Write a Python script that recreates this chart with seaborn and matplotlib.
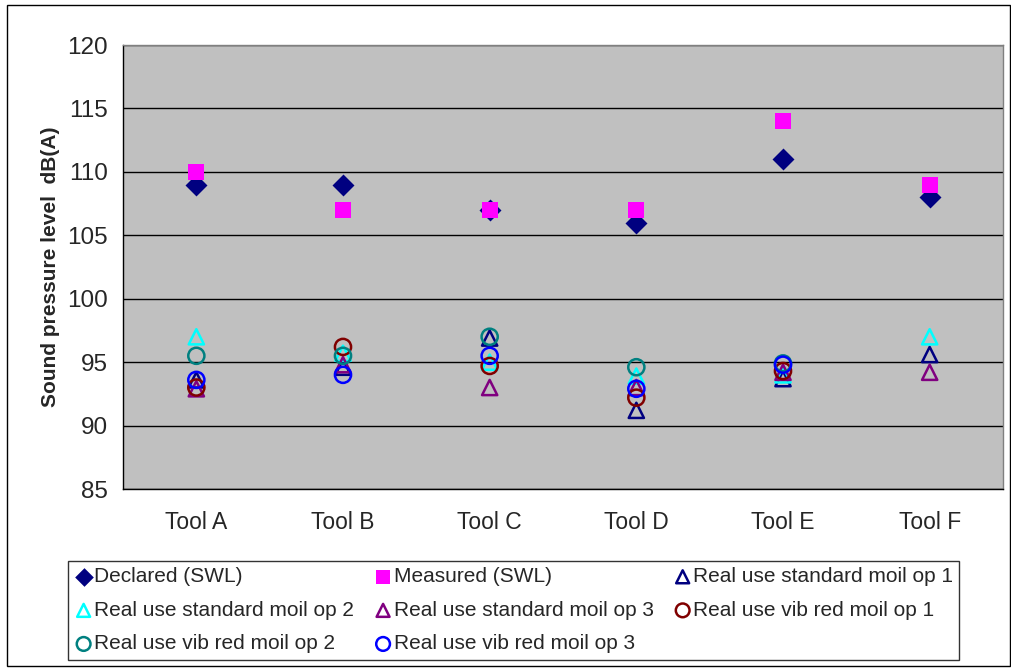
import matplotlib
matplotlib.use("Agg")
import matplotlib.pyplot as plt
import seaborn as sns
import pandas as pd
from matplotlib.patches import Rectangle

tools = ["Tool A", "Tool B", "Tool C", "Tool D", "Tool E", "Tool F"]
declared = [109, 109, 107, 106, 111, 108]
measured = [110, 107, 107, 107, 114, 109]
std_op1 = [93.6, 94.6, 96.9, 91.2, 93.7, 95.6]
std_op2 = [97.0, 95.7, 95.0, 93.9, 94.0, 97.0]
std_op3 = [92.9, 94.8, 93.0, 93.0, 94.2, 94.2]
vib_op1 = [93.0, 96.2, 94.7, 92.2, 94.3, None]
vib_op2 = [95.5, 95.5, 97.0, 94.6, 94.9, None]
vib_op3 = [93.6, 94.0, 95.5, 92.9, 94.8, None]
yticks = [85, 90, 95, 100, 105, 110, 115, 120]

series = [
    ("Declared (SWL)", declared, "D", "#000080", True, 125),
    ("Measured (SWL)", measured, "s", "#FF00FF", True, 135),
    ("Real use standard moil op 1", std_op1, "^", "#000080", False, 120),
    ("Real use standard moil op 2", std_op2, "^", "#00FFFF", False, 120),
    ("Real use standard moil op 3", std_op3, "^", "#800080", False, 120),
    ("Real use vib red moil op 1", vib_op1, "o", "#800000", False, 135),
    ("Real use vib red moil op 2", vib_op2, "o", "#008080", False, 135),
    ("Real use vib red moil op 3", vib_op3, "o", "#0000FF", False, 135),
]

sns.set_style("white")
plt.rcParams["font.family"] = ["Liberation Sans", "DejaVu Sans"]

fig = plt.figure(figsize=(10.12, 6.68), dpi=100)
ax = fig.add_axes([123 / 1012, 1 - 489 / 668, 880 / 1012, 444 / 668])
ax.set_facecolor("#C0C0C0")

for label, vals, mk, col, filled, s in series:
    df = pd.DataFrame({"tool": tools, "val": vals}).dropna()
    if filled:
        sns.scatterplot(data=df, x="tool", y="val", marker=mk, s=s, color=col,
                        edgecolor=col, linewidth=0, ax=ax, label=label, zorder=3)
    else:
        sns.scatterplot(data=df, x="tool", y="val", marker=mk, s=s, color=col,
                        facecolor="none", edgecolor=col, linewidth=1.8, ax=ax,
                        label=label, zorder=3)

ax.set_xlim(-0.5, 5.5)
ax.set_ylim(85, 120)
ax.set_yticks(yticks)
ax.set_xticks(range(len(tools)))
ax.set_xticklabels(tools)
ax.set_xticks([i + 0.5 for i in range(-1, 6)], minor=True)
ax.tick_params(axis="x", which="major", length=0, pad=16, labelsize=16.5)
ax.tick_params(axis="x", which="minor", length=6, width=1, color="black", direction="out")
ax.tick_params(axis="y", length=6, width=1, color="black", direction="out", labelsize=17.5, pad=5)
ax.yaxis.grid(True, color="black", linewidth=1)
ax.set_axisbelow(True)
ax.set_xlabel("")
ax.set_ylabel("Sound pressure level  dB(A)", fontsize=15, fontweight="bold", labelpad=5)
for side in ["left", "bottom"]:
    ax.spines[side].set_color("black")
    ax.spines[side].set_linewidth(1)
for side in ["top", "right"]:
    ax.spines[side].set_color("#808080")
    ax.spines[side].set_linewidth(1)

h, l = ax.get_legend_handles_labels()
ax.get_legend().remove()
order = [0, 3, 6, 1, 4, 7, 2, 5]
leg = fig.legend([h[i] for i in order], [l[i] for i in order], ncol=3,
                 loc="upper left", bbox_to_anchor=(68 / 1012, 1 - 561 / 668),
                 borderaxespad=0,
                 frameon=True, fancybox=False, edgecolor="black", fontsize=15,
                 handletextpad=0.05, handlelength=0.9, columnspacing=0.95,
                 labelspacing=0.7, borderpad=0.3, markerscale=0.85)
leg.get_frame().set_linewidth(1)

fig.patches.append(Rectangle((7 / 1012, 2 / 668), 1 - 9 / 1012, 1 - 7 / 668,
                             transform=fig.transFigure, fill=False,
                             edgecolor="black", linewidth=1))

fig.savefig("out.png", dpi=100)
